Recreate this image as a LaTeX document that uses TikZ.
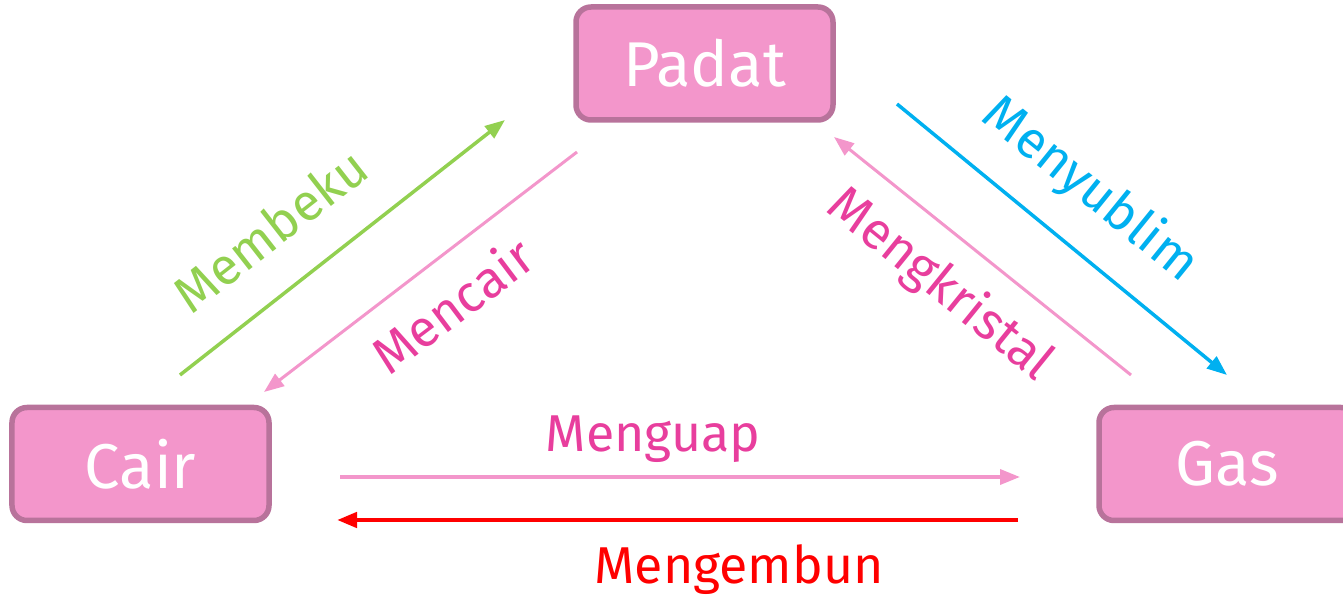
\documentclass[tikz,border=0pt]{standalone}
\usepackage{fontspec}
\setmainfont{Fira Sans}
\usetikzlibrary{arrows.meta, positioning, shapes}
\definecolor{fase_fill}{RGB}{243,150,203}
\definecolor{fase_border}{RGB}{184,115,155}
\definecolor{beku_green}{RGB}{146,208,80}
\definecolor{cair_pink}{RGB}{232,62,157}
\definecolor{garis_pink}{RGB}{243,150,203}
\definecolor{sublim_blue}{RGB}{0,176,240}

\begin{document}
\begin{tikzpicture}
	\tikzset{
		-{Triangle[length=4mm, width=3mm]}, % arrow tip for every edge
		fase/.style={draw=fase_border, fill=fase_fill, line width=1.1mm, rounded corners=3mm,
			minimum width=5.14cm, minimum height=2.26cm, text=white, font=\fontsize{36}{38}\selectfont}, % phase boxes
		label/.style={font=\fontsize{29.5}{31}\selectfont}, % text along the arrows
	}
	\useasboundingbox (0,0) rectangle (26.86,11.92);
	\node[fase] (padat) at (14.09,10.65) {Padat};
	\node[fase] (cair) at (2.81,2.64) {Cair};
	\node[fase] (gas) at (24.55,2.64) {Gas};

	% ends of the arrows
	\coordinate (beku1) at (3.6,4.42);   \coordinate (beku2) at (10.1,9.52);
	\coordinate (leleh1) at (11.54,8.88); \coordinate (leleh2) at (5.28,4.08);
	\coordinate (sublim1) at (17.94,9.84); \coordinate (sublim2) at (24.54,4.42);
	\coordinate (kristal1) at (22.62,4.42); \coordinate (kristal2) at (16.68,9.18);
	\coordinate (uap1) at (6.8,2.38);     \coordinate (uap2) at (20.4,2.38);
	\coordinate (embun1) at (20.36,1.52); \coordinate (embun2) at (6.74,1.52);

	\draw[beku_green, line width=0.7mm] (beku1) -- (beku2);
	\draw[garis_pink, line width=0.6mm] (leleh1) -- (leleh2);
	\draw[sublim_blue, line width=0.7mm] (sublim1) -- (sublim2);
	\draw[garis_pink, line width=0.6mm] (kristal1) -- (kristal2);
	\draw[garis_pink, line width=0.7mm] (uap1) -- (uap2);
	\draw[red, line width=0.9mm] (embun1) -- (embun2);

	\node[label, beku_green, rotate=38] (membeku) at (5.4,7.32) {Membeku};
	\node[label, cair_pink, rotate=37] (mencair) at (9.04,5.82) {Mencair};
	\node[label, sublim_blue, rotate=-39] (menyublim) at (21.8,8.12) {Menyublim};
	\node[label, cair_pink, rotate=-39] (mengkristal) at (18.8,6.22) {Mengkristal};
	\node[label, cair_pink, anchor=base] (menguap) at (13.06,2.88) {Menguap};
	\node[label, red, anchor=base] (mengembun) at (14.78,0.24) {Mengembun};
\end{tikzpicture}
\end{document}
